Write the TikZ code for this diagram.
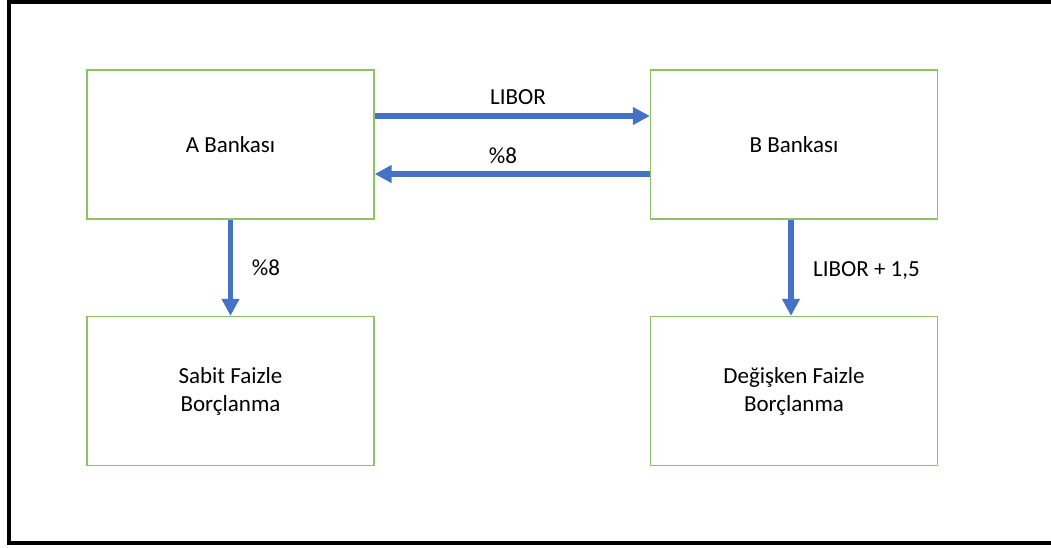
\documentclass[tikz,border=0pt]{standalone}
\usepackage{fontspec}
\setmainfont{Carlito}
\usetikzlibrary{arrows.meta}
\definecolor{boxgreen}{RGB}{140,195,100}
\definecolor{arrowblue}{RGB}{68,114,196}
\begin{document}
\begin{tikzpicture}[x=1pt,y=-1pt,
  every node/.style={font=\fontsize{23}{28}\selectfont, text=black},
  bank/.style={draw=boxgreen, line width=1.3pt, minimum width=287pt, minimum height=149pt, align=center, inner sep=0pt},
  flow/.style={draw=arrowblue, line width=5.5pt, -{Triangle[length=17pt,width=17pt]}},
  lbl/.style={inner sep=0pt}]
\useasboundingbox (0,0) rectangle (1051,547);
\draw[line width=4pt, line cap=rect] (1051,1.5) -- (9,1.5) -- (9,542.5) -- (1051,542.5);
\node[bank] (A) at (230.5,144.5) {A Bankası};
\node[bank] (B) at (794,144.5) {B Bankası};
\node[bank] (S) at (230.5,391) {Sabit Faizle\\Borçlanma};
\node[bank] (D) at (794,391) {Değişken Faizle\\Borçlanma};
\draw[flow] (A.east |- 0,116) -- (B.west |- 0,116);
\draw[flow] (B.west |- 0,174) -- (A.east |- 0,174);
\draw[flow] (A.south) -- (S.north);
\draw[flow] (B.south -| 791,0) -- (D.north -| 791,0);
\node[lbl] (l1) at (518,97) {LIBOR};
\node[lbl] (l2) at (503,156) {\%8};
\node[lbl] (l3) at (266,268) {\%8};
\node[lbl, anchor=west] (l4) at (813,270) {LIBOR + 1,5};
\end{tikzpicture}
\end{document}
